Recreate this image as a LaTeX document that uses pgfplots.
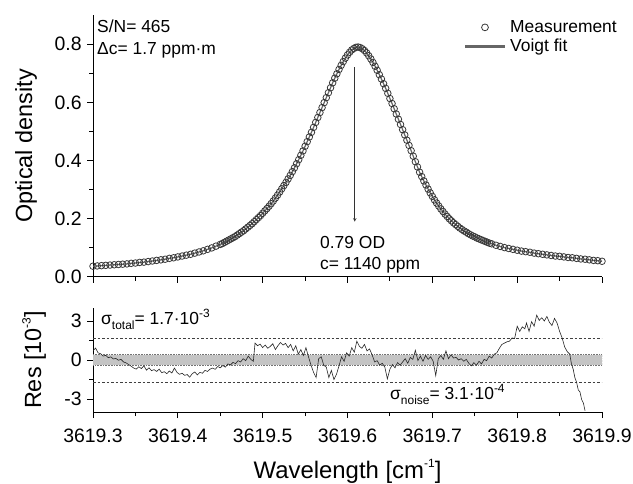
\documentclass[border=0pt]{standalone}
\usepackage{pgfplots}
\pgfplotsset{compat=1.18}
\usepackage{fontspec}
\setmainfont{Liberation Sans}
\definecolor{meas}{HTML}{383838}
\definecolor{fitc}{HTML}{666666}
\definecolor{band}{HTML}{C4C4C4}

\pgfplotstableread{
x y
3619.300 0.037
3619.305 0.038
3619.310 0.039
3619.315 0.040
3619.320 0.041
3619.325 0.042
3619.330 0.043
3619.335 0.044
3619.340 0.045
3619.345 0.047
3619.350 0.048
3619.355 0.050
3619.360 0.051
3619.365 0.053
3619.370 0.055
3619.375 0.057
3619.380 0.059
3619.385 0.061
3619.390 0.064
3619.395 0.066
3619.400 0.069
3619.405 0.072
3619.410 0.075
3619.415 0.078
3619.420 0.082
3619.425 0.086
3619.430 0.090
3619.435 0.095
3619.440 0.100
3619.445 0.106
3619.450 0.112
3619.4525 0.115
3619.455 0.119
3619.4575 0.123
3619.460 0.127
3619.4625 0.131
3619.465 0.135
3619.4675 0.139
3619.470 0.144
3619.4725 0.149
3619.475 0.154
3619.4775 0.159
3619.480 0.165
3619.4825 0.171
3619.485 0.177
3619.4875 0.183
3619.490 0.190
3619.4925 0.197
3619.495 0.204
3619.4975 0.211
3619.500 0.219
3619.5025 0.227
3619.505 0.235
3619.5075 0.243
3619.510 0.252
3619.5125 0.261
3619.515 0.271
3619.5175 0.281
3619.520 0.292
3619.5225 0.303
3619.525 0.314
3619.5275 0.325
3619.530 0.337
3619.5325 0.349
3619.535 0.362
3619.5375 0.375
3619.540 0.389
3619.5425 0.403
3619.545 0.418
3619.5475 0.433
3619.550 0.449
3619.5525 0.465
3619.555 0.481
3619.5575 0.497
3619.560 0.514
3619.5625 0.531
3619.565 0.548
3619.5675 0.565
3619.570 0.582
3619.5725 0.599
3619.575 0.616
3619.5775 0.633
3619.580 0.650
3619.5825 0.667
3619.585 0.683
3619.5875 0.698
3619.590 0.713
3619.5925 0.727
3619.595 0.740
3619.5975 0.752
3619.600 0.763
3619.6025 0.772
3619.605 0.780
3619.6075 0.785
3619.610 0.789
3619.6125 0.790
3619.615 0.788
3619.6175 0.784
3619.620 0.778
3619.6225 0.770
3619.625 0.760
3619.6275 0.749
3619.630 0.737
3619.6325 0.724
3619.635 0.710
3619.6375 0.695
3619.640 0.680
3619.6425 0.664
3619.645 0.648
3619.6475 0.631
3619.650 0.613
3619.6525 0.596
3619.655 0.578
3619.6575 0.560
3619.660 0.542
3619.6625 0.524
3619.665 0.506
3619.6675 0.488
3619.670 0.470
3619.6725 0.452
3619.675 0.434
3619.6775 0.415
3619.680 0.396
3619.6825 0.378
3619.685 0.360
3619.6875 0.345
3619.690 0.330
3619.6925 0.316
3619.695 0.302
3619.6975 0.289
3619.700 0.277
3619.7025 0.265
3619.705 0.254
3619.7075 0.244
3619.710 0.234
3619.7125 0.225
3619.715 0.216
3619.7175 0.208
3619.720 0.200
3619.7225 0.193
3619.725 0.186
3619.7275 0.180
3619.730 0.174
3619.7325 0.168
3619.735 0.163
3619.7375 0.158
3619.740 0.154
3619.7425 0.149
3619.745 0.145
3619.7475 0.141
3619.750 0.138
3619.7525 0.134
3619.755 0.131
3619.7575 0.128
3619.760 0.125
3619.7625 0.122
3619.765 0.119
3619.7675 0.116
3619.770 0.114
3619.775 0.109
3619.780 0.105
3619.785 0.101
3619.790 0.098
3619.795 0.095
3619.800 0.092
3619.805 0.089
3619.810 0.087
3619.815 0.085
3619.820 0.082
3619.825 0.080
3619.830 0.078
3619.835 0.076
3619.840 0.074
3619.845 0.072
3619.850 0.071
3619.855 0.069
3619.860 0.067
3619.865 0.066
3619.870 0.064
3619.875 0.062
3619.880 0.061
3619.885 0.059
3619.890 0.057
3619.895 0.056
3619.900 0.054
}\spectrum

\pgfplotstableread{
x r
3619.300 0.70
3619.303 0.92
3619.306 0.55
3619.309 0.48
3619.312 0.30
3619.315 0.36
3619.318 0.18
3619.321 0.24
3619.324 0.08
3619.327 0.12
3619.330 -0.02
3619.333 0.05
3619.336 -0.15
3619.339 -0.22
3619.342 -0.35
3619.345 -0.48
3619.348 -0.62
3619.351 -0.70
3619.354 -0.52
3619.357 -0.66
3619.360 -0.45
3619.363 -0.78
3619.366 -0.60
3619.369 -0.82
3619.372 -0.74
3619.375 -0.88
3619.378 -0.70
3619.381 -0.98
3619.384 -0.90
3619.387 -1.05
3619.390 -0.85
3619.393 -1.00
3619.396 -0.62
3619.399 -0.95
3619.402 -1.10
3619.405 -1.02
3619.408 -1.18
3619.411 -1.12
3619.414 -1.32
3619.417 -1.05
3619.420 -0.92
3619.423 -1.15
3619.426 -0.95
3619.429 -1.02
3619.432 -0.80
3619.435 -0.88
3619.438 -0.70
3619.441 -0.62
3619.444 -0.72
3619.447 -0.50
3619.450 -0.60
3619.453 -0.42
3619.456 -0.55
3619.459 -0.30
3619.462 -0.38
3619.465 -0.18
3619.468 -0.28
3619.471 -0.05
3619.474 -0.15
3619.477 0.10
3619.480 -0.05
3619.483 0.30
3619.486 0.05
3619.489 -0.10
3619.491 1.30
3619.494 1.10
3619.497 1.22
3619.500 0.95
3619.503 1.15
3619.506 0.90
3619.509 1.05
3619.512 1.25
3619.515 0.80
3619.518 1.10
3619.521 1.35
3619.524 1.15
3619.527 1.28
3619.530 0.95
3619.533 1.20
3619.536 0.70
3619.539 1.10
3619.542 0.45
3619.545 0.80
3619.548 0.35
3619.551 0.95
3619.554 0.25
3619.557 -0.40
3619.560 -0.95
3619.563 -1.35
3619.566 0.10
3619.569 0.25
3619.572 -0.40
3619.575 -0.55
3619.578 -1.35
3619.581 -0.80
3619.584 -1.50
3619.587 -1.10
3619.590 -0.45
3619.593 0.25
3619.596 -0.10
3619.599 0.55
3619.602 0.30
3619.605 0.95
3619.608 0.60
3619.611 1.45
3619.614 1.05
3619.617 0.90
3619.620 1.20
3619.623 0.70
3619.626 0.85
3619.629 0.40
3619.632 -0.15
3619.635 -0.05
3619.638 -0.40
3619.641 -0.25
3619.644 -0.55
3619.647 -1.45
3619.650 -0.70
3619.653 -0.35
3619.656 -0.60
3619.659 -0.20
3619.662 -0.40
3619.665 -0.15
3619.668 0.10
3619.671 -0.25
3619.674 0.20
3619.677 0.05
3619.680 0.75
3619.683 -0.05
3619.686 0.30
3619.689 -0.10
3619.692 0.35
3619.695 0.05
3619.698 0.25
3619.701 -0.10
3619.704 -1.20
3619.707 0.10
3619.710 0.35
3619.713 0.05
3619.716 0.70
3619.719 0.10
3619.722 0.40
3619.725 0.15
3619.728 0.20
3619.731 0.00
3619.734 0.10
3619.737 -0.10
3619.740 0.05
3619.743 -0.25
3619.746 -0.45
3619.749 -0.20
3619.752 -0.40
3619.755 -0.10
3619.758 -0.30
3619.761 0.05
3619.764 -0.05
3619.767 0.30
3619.770 0.15
3619.773 0.45
3619.776 0.55
3619.779 0.90
3619.782 1.20
3619.785 1.30
3619.788 1.40
3619.791 1.45
3619.794 1.70
3619.797 1.65
3619.800 2.60
3619.803 2.20
3619.806 2.55
3619.809 2.40
3619.811 2.85
3619.814 2.20
3619.817 2.95
3619.820 2.60
3619.823 3.45
3619.826 3.05
3619.829 3.25
3619.832 3.00
3619.835 3.35
3619.838 2.90
3619.841 2.65
3619.844 3.20
3619.847 2.85
3619.850 2.20
3619.853 1.70
3619.856 1.00
3619.859 0.65
3619.862 0.45
3619.864 -0.30
3619.866 -0.70
3619.868 -1.35
3619.870 -1.70
3619.872 -2.30
3619.874 -2.45
3619.876 -3.05
3619.878 -3.30
3619.880 -3.90
}\resid

\newcommand{\sub}[1]{\raisebox{-0.5ex}{\fontsize{12}{12}\selectfont #1}}
\newcommand{\sups}[1]{\raisebox{0.85ex}{\fontsize{12}{12}\selectfont #1}}

\pgfplotsset{
  common/.style={
    scale only axis, width=509bp,
    xmin=3619.3, xmax=3619.9,
    axis x line*=bottom, axis y line*=left,
    axis line style={-, line width=1bp, black},
    tick align=outside,
    major tick length=6bp, minor tick length=4bp,
    every tick/.style={black, line width=1bp},
    xtick={3619.3,3619.4,3619.5,3619.6,3619.7,3619.8,3619.9},
    minor xtick={3619.35,3619.45,3619.55,3619.65,3619.75,3619.85},
    tick label style={font=\fontsize{19.5}{21}\selectfont},
    xticklabel style={yshift=-7bp},
    yticklabel style={xshift=-2bp},
  },
  measleg/.style={legend image code/.code={\draw[##1, mark size=3.4bp] plot coordinates {(19.5bp,0bp)};}},
  lineleg/.style={legend image code/.code={\fill[##1] (0bp,-1.3bp) rectangle (39bp,1.3bp);}},
}

\begin{document}
\begin{tikzpicture}
\path[use as bounding box] (0bp,0bp) rectangle (633bp,484bp);

\begin{axis}[common,
  at={(93bp,207bp)}, anchor=south west, height=262bp,
  ymin=0, ymax=0.9,
  xticklabels={},
  ytick={0,0.2,0.4,0.6,0.8}, yticklabels={0.0,0.2,0.4,0.6,0.8},
  minor ytick={0.1,0.3,0.5,0.7},
  ylabel={Optical density},
  every axis y label/.style={at={(axis description cs:-0.1198,0.5)}, anchor=base, rotate=90, font=\fontsize{23.5}{26}\selectfont},
  legend style={at={(axis description cs:0.731,0.985)}, anchor=north west, draw=none, fill=none,
    font=\fontsize{17.5}{19}\selectfont, row sep=2bp, column sep=4bp, inner sep=0bp,
    nodes={inner sep=1.5bp}, cells={anchor=west}},
]
\addplot[fitc, line width=1.2bp, forget plot] table[x=x,y=y]{\spectrum};
\addplot[only marks, mark=o, mark size=3.3bp, meas, mark options={line width=0.8bp}, measleg]
  table[x=x,y=y]{\spectrum};
\addlegendentry{Measurement}
\addlegendimage{fitc, lineleg}
\addlegendentry{Voigt fit}
\draw[-stealth, line width=0.6bp, black!80] (axis cs:3619.6085,0.721) -- (axis cs:3619.6085,0.19);
\end{axis}

\begin{axis}[common,
  at={(93bp,72bp)}, anchor=south west, height=104bp,
  ymin=-4, ymax=4,
  xticklabels={3619.3,3619.4,3619.5,3619.6,3619.7,3619.8,3619.9},
  ytick={-3,0,3}, yticklabels={-3,0,3},
  minor ytick={-1.5,1.5},
  ylabel={Res [10\sups{-3}]},
  every axis y label/.style={at={(axis description cs:-0.102,0.5)}, anchor=base, rotate=90, font=\fontsize{23.5}{26}\selectfont},
  xlabel={Wavelength [cm\sups{-1}]},
  every axis x label/.style={at={(axis description cs:0.5,-0.635)}, anchor=base, font=\fontsize{24}{26}\selectfont},
]
\addplot[fill=band, draw=none] coordinates {(3619.3,-0.42) (3619.9,-0.42) (3619.9,0.42) (3619.3,0.42)} -- cycle;
\addplot[densely dotted, black!55, line width=0.6bp] coordinates {(3619.3,0.42) (3619.9,0.42) (3619.9,-0.42) (3619.3,-0.42)};
\addplot[dash pattern=on 2.5bp off 2bp, black!75, line width=0.7bp] coordinates {(3619.3,1.7) (3619.9,1.7)};
\addplot[dash pattern=on 2.5bp off 2bp, black!75, line width=0.7bp] coordinates {(3619.3,-1.7) (3619.9,-1.7)};
\addplot[black!85, line width=0.6bp] table[x=x,y=r]{\resid};
\end{axis}

\node[anchor=base west, font=\fontsize{17.5}{19}\selectfont, inner sep=0] at (97bp,451bp) {S/N= 465};
\node[anchor=base west, font=\fontsize{17.5}{19}\selectfont, inner sep=0] at (97bp,429bp) {Δc= 1.7 ppm·m};
\node[anchor=base west, font=\fontsize{17.5}{19}\selectfont, inner sep=0] at (320bp,235bp) {0.79 OD};
\node[anchor=base west, font=\fontsize{17.5}{19}\selectfont, inner sep=0] at (320bp,214bp) {c= 1140 ppm};
\node[anchor=base west, font=\fontsize{17.5}{19}\selectfont, inner sep=0] at (101bp,159bp) {σ\sub{total}= 1.7·10\sups{-3}};
\node[anchor=base west, font=\fontsize{17.5}{19}\selectfont, inner sep=0] at (390bp,84bp) {σ\sub{noise}= 3.1·10\sups{-4}};
\end{tikzpicture}
\end{document}
